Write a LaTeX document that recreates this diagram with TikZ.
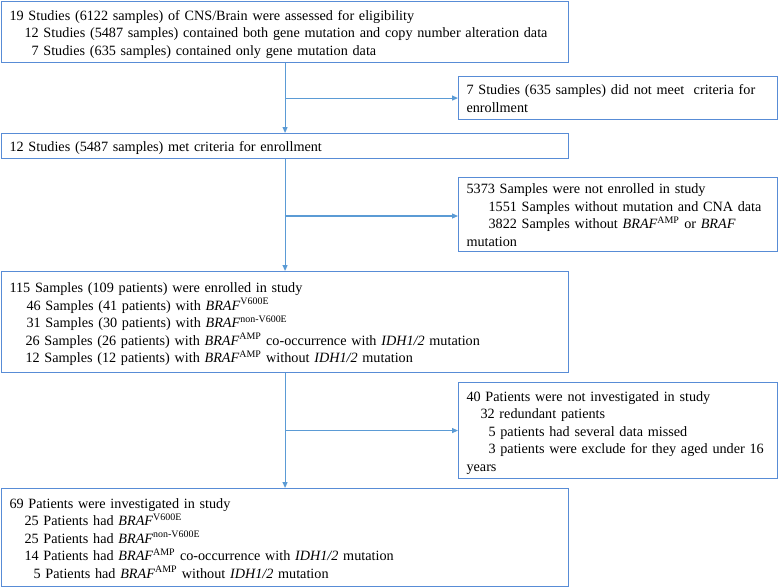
\documentclass[tikz,border=0pt]{standalone}
\usepackage{fontspec}
\setmainfont{Liberation Serif}
\usetikzlibrary{arrows.meta}
\definecolor{lineblue}{RGB}{91,155,213}
\definecolor{boxblue}{RGB}{88,140,214}
\newcommand{\braf}[1]{\textit{BRAF}\textsuperscript{#1}}
\newcommand{\idh}{\textit{IDH1/2}}
\begin{document}
\begin{tikzpicture}[x=1pt,y=-1pt,
  flowbox/.style={draw=boxblue, line width=1.1pt, anchor=north west, align=left,
    inner xsep=8pt, inner ysep=0pt, font=\fontsize{14.2}{17.5}\selectfont,
    execute at begin node=\rule{0pt}{16.25pt}, execute at end node=\strut},
  conn/.style={draw=lineblue, line width=1.1pt, -{Triangle[length=6pt,width=5pt]}}]
\useasboundingbox (0,0) rectangle (778,587);

\node[flowbox, text width=551pt, minimum height=61pt] (b1) at (1,1)
{19 Studies (6122 samples) of CNS/Brain were assessed for eligibility\\
\mbox{\hspace*{15pt}12 Studies (5487 samples) contained both gene mutation and copy number alteration data}\\
\hspace*{22pt}7 Studies (635 samples) contained only gene mutation data};

\node[flowbox, text width=303pt, minimum height=43pt] (b2) at (458,76)
{\mbox{7 Studies (635 samples) did not meet\ \ criteria for}\\
enrollment};

\node[flowbox, text width=551pt, minimum height=25pt] (b3) at (1,133)
{12 Studies (5487 samples) met criteria for enrollment};

\node[flowbox, text width=303pt, minimum height=70pt] (b4) at (458,177)
{5373 Samples were not enrolled in study\\
\mbox{\hspace*{22pt}1551 Samples without mutation and CNA data}\\
\mbox{\hspace*{22pt}3822 Samples without \braf{AMP} or \textit{BRAF}}\\
mutation};

\node[flowbox, text width=551pt, minimum height=101pt] (b5) at (1,271)
{115 Samples (109 patients) were enrolled in study\\
\hspace*{17pt}46 Samples (41 patients) with \braf{V600E}\\
\hspace*{17pt}31 Samples (30 patients) with \braf{non-V600E}\\
\hspace*{16pt}26 Samples (26 patients) with \braf{AMP} co-occurrence with \idh{} mutation\\
\hspace*{16pt}12 Samples (12 patients) with \braf{AMP} without \idh{} mutation};

\node[flowbox, text width=303pt, minimum height=96pt] (b6) at (458,382)
{40 Patients were not investigated in study\\
\hspace*{14pt}32 redundant patients\\
\hspace*{22pt}5 patients had several data missed\\
\mbox{\hspace*{22pt}3 patients were exclude for they aged under 16}\\
years};

\node[flowbox, text width=551pt, minimum height=98pt] (b7) at (1,488)
{69 Patients were investigated in study\\
\hspace*{15pt}25 Patients had \braf{V600E}\\
\hspace*{15pt}25 Patients had \braf{non-V600E}\\
\hspace*{15pt}14 Patients had \braf{AMP} co-occurrence with \idh{} mutation\\
\hspace*{24pt}5 Patients had \braf{AMP} without \idh{} mutation};

\coordinate (j2) at (284.5,216);

\draw[conn] (b1.south) -- (b3.north);
\draw[conn] (b1.south |- b2.west) -- (b2.west);
\draw[conn] (b3.south) -- (b5.north);
\draw[conn] (j2) -- (j2 -| b4.west);
\draw[conn] (b5.south) -- (b7.north);
\draw[conn] (b5.south |- b6.west) -- (b6.west);
\end{tikzpicture}
\end{document}
